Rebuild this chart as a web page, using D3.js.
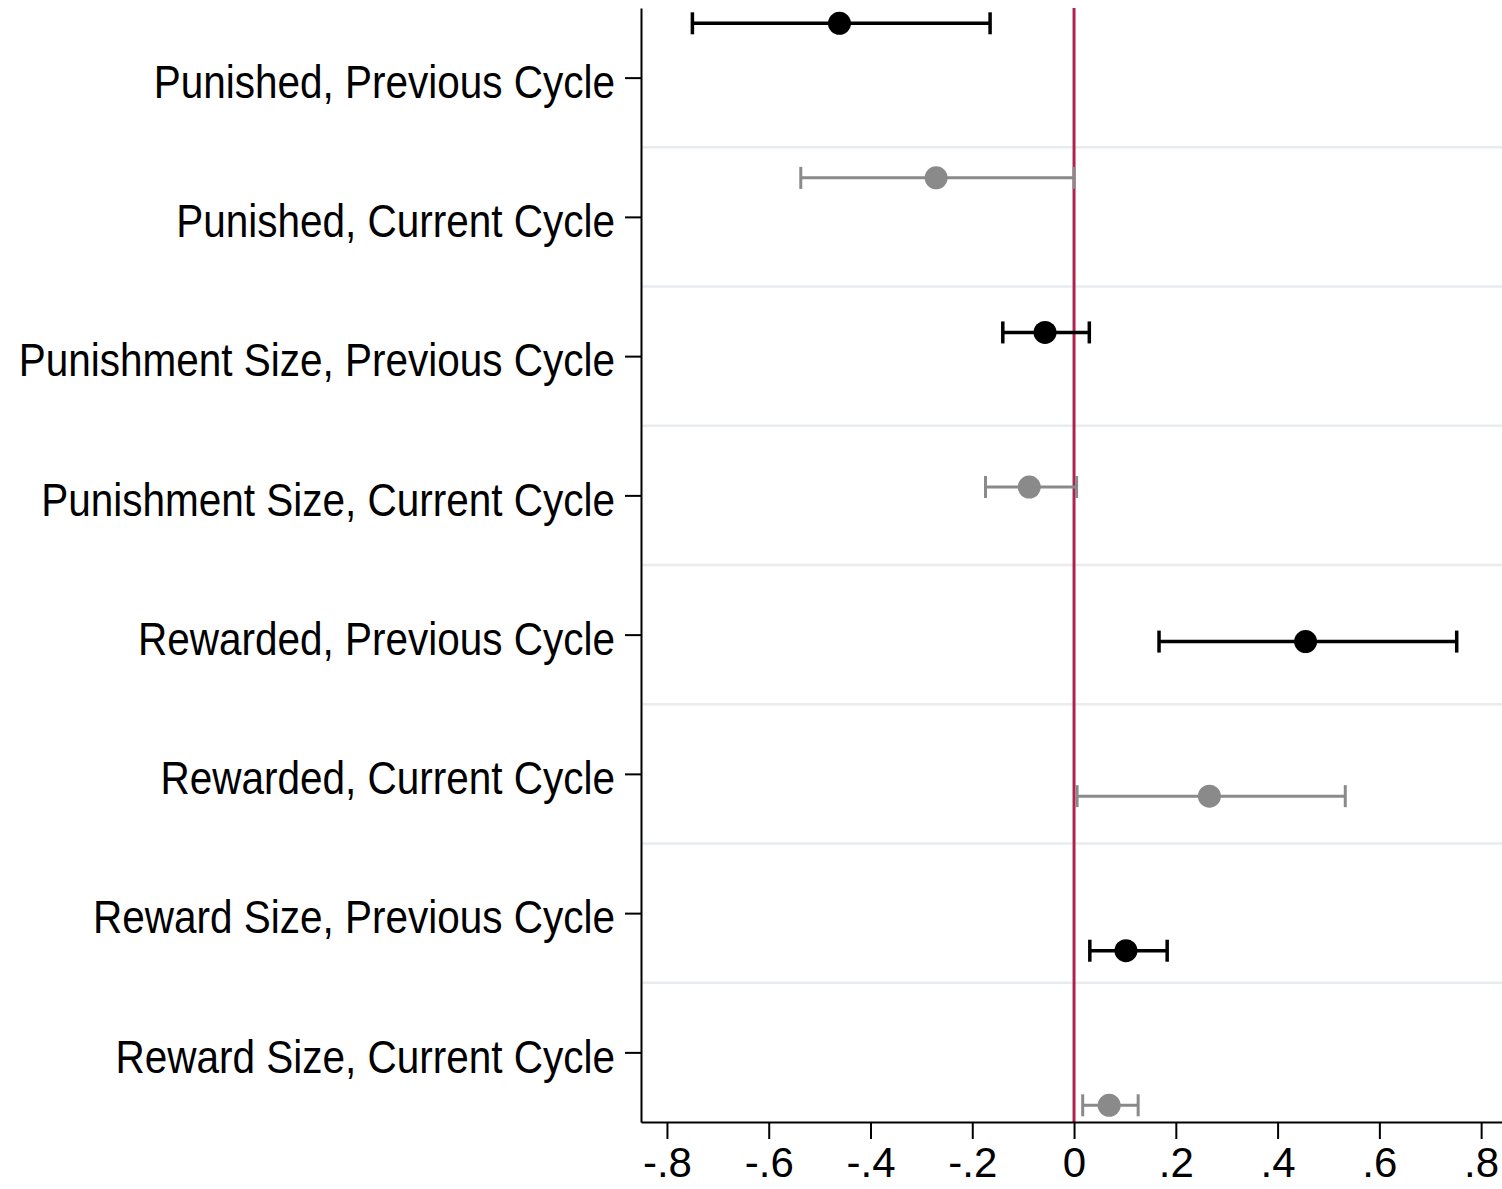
<!DOCTYPE html>
<html>
<head>
<meta charset="utf-8">
<script src="https://cdn.jsdelivr.net/npm/d3@7"></script>
<style>
  html, body { margin: 0; padding: 0; background: #fff; }
  svg { display: block; }
  text { font-family: "Liberation Sans", Arial, Helvetica, sans-serif; }
</style>
</head>
<body>
<svg id="chart" width="1502" height="1189"></svg>
<script>
// ---- data ----
const categories = [
  "Punished, Previous Cycle",
  "Punished, Current Cycle",
  "Punishment Size, Previous Cycle",
  "Punishment Size, Current Cycle",
  "Rewarded, Previous Cycle",
  "Rewarded, Current Cycle",
  "Reward Size, Previous Cycle",
  "Reward Size, Current Cycle"
];
const cycle = ["Previous", "Current", "Previous", "Current", "Previous", "Current", "Previous", "Current"];
const estimates = [-0.461, -0.271, -0.057, -0.088, 0.455, 0.266, 0.102, 0.069];
const ciLow     = [-0.750, -0.537, -0.140, -0.174, 0.167, 0.006, 0.031, 0.017];
const ciHigh    = [-0.165,  0.000,  0.030,  0.005, 0.752, 0.533, 0.183, 0.126];
const xTicks = [-0.8, -0.6, -0.4, -0.2, 0, 0.2, 0.4, 0.6, 0.8];
const xTickLabels = ["-.8", "-.6", "-.4", "-.2", "0", ".2", ".4", ".6", ".8"];

// ---- layout ----
const svg = d3.select("#chart");
const plotLeft = 641, plotRight = 1502, plotTop = 8, plotBottom = 1122;
const colors = { Previous: "#000000", Current: "#8a8a8a" };
const widths = { Previous: 3.5, Current: 3 };

const x = d3.scaleLinear().domain([-0.851, 0.841]).range([plotLeft, plotRight]);
const yLab = d3.scaleLinear().domain([-0.5, 7.5]).range([plotTop, plotBottom]);
const yPt = d3.scalePoint().domain(categories).range([23.3, 1105.3]);

// gridlines between categories
svg.append("g").selectAll("line")
  .data(d3.range(categories.length - 1))
  .join("line")
  .attr("x1", plotLeft).attr("x2", plotRight)
  .attr("y1", d => yLab(d + 0.5)).attr("y2", d => yLab(d + 0.5))
  .attr("stroke", "#e9ecef").attr("stroke-width", 2.5);

// reference line at zero
svg.append("line")
  .attr("x1", x(0)).attr("x2", x(0))
  .attr("y1", plotTop).attr("y2", plotBottom)
  .attr("stroke", "#b0224f").attr("stroke-width", 3);

// y axis
const yAxis = d3.axisLeft(yLab)
  .tickValues(d3.range(categories.length))
  .tickFormat(i => categories[i])
  .tickSize(16).tickSizeOuter(0).tickPadding(10);
const gy = svg.append("g").attr("transform", `translate(${plotLeft},0)`).call(yAxis);
gy.select(".domain").attr("stroke", "#000").attr("stroke-width", 2);
gy.selectAll(".tick line").attr("stroke", "#000").attr("stroke-width", 2);
gy.selectAll(".tick text")
  .attr("font-size", 40.5).attr("fill", "#000")
  .attr("font-family", "Liberation Sans, Arial, sans-serif")
  .attr("dy", "17.3px")
  .attr("transform", "scale(1,1.14)");

// x axis
const xAxis = d3.axisBottom(x)
  .tickValues(xTicks)
  .tickFormat((v, i) => xTickLabels[i])
  .tickSize(17).tickSizeOuter(0).tickPadding(8);
const gx = svg.append("g").attr("transform", `translate(0,${plotBottom})`).call(xAxis);
gx.select(".domain").attr("stroke", "#000").attr("stroke-width", 2);
gx.selectAll(".tick line").attr("stroke", "#000").attr("stroke-width", 2);
gx.selectAll(".tick text").attr("font-size", 42).attr("fill", "#000")
  .attr("font-family", "Liberation Sans, Arial, sans-serif");

// error bars and points
const rows = categories.map((c, i) => ({ c, s: cycle[i], est: estimates[i], lo: ciLow[i], hi: ciHigh[i] }));
const g = svg.append("g");
const row = g.selectAll("g.row").data(rows).join("g").attr("class", "row");
row.append("line")
  .attr("x1", d => x(d.lo)).attr("x2", d => x(d.hi))
  .attr("y1", d => yPt(d.c)).attr("y2", d => yPt(d.c))
  .attr("stroke", d => colors[d.s]).attr("stroke-width", d => widths[d.s]);
row.append("line")
  .attr("x1", d => x(d.lo)).attr("x2", d => x(d.lo))
  .attr("y1", d => yPt(d.c) - 11).attr("y2", d => yPt(d.c) + 11)
  .attr("stroke", d => colors[d.s]).attr("stroke-width", d => widths[d.s]);
row.append("line")
  .attr("x1", d => x(d.hi)).attr("x2", d => x(d.hi))
  .attr("y1", d => yPt(d.c) - 11).attr("y2", d => yPt(d.c) + 11)
  .attr("stroke", d => colors[d.s]).attr("stroke-width", d => widths[d.s]);
row.append("circle")
  .attr("cx", d => x(d.est)).attr("cy", d => yPt(d.c))
  .attr("r", 11.5)
  .attr("fill", d => colors[d.s]);
</script>
</body>
</html>
